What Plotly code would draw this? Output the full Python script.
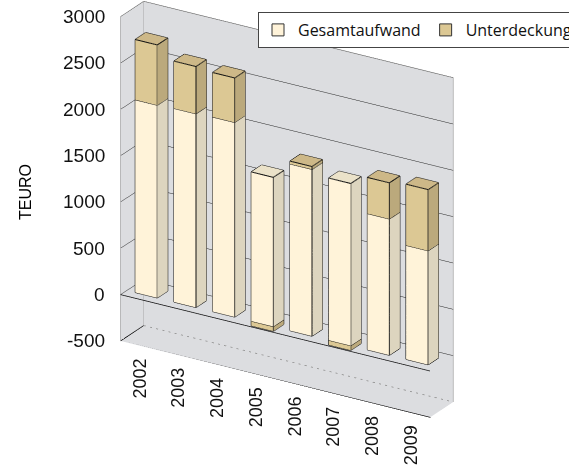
import math
import plotly.graph_objects as go

# ---- data -------------------------------------------------------------
years = ["2002", "2003", "2004", "2005", "2006", "2007", "2008", "2009"]
gesamtaufwand = [2080, 2090, 2100, 1610, 1800, 1750, 1470, 1230]
unterdeckung = [650, 510, 480, -50, 30, -50, 390, 660]
value_ticks = [-500, 0, 500, 1000, 1500, 2000, 2500, 3000]

# ---- styling ----------------------------------------------------------
WALL = "#dcdde0"
FRAME = "#a6a6a6"
G_COLORS = dict(front="#fff3d9", side="#ddd5bf", top="#ebe2c9")
U_COLORS = dict(front="#dcc894", side="#bba97c", top="#cdb888")
BAR_HALF = 0.285          # half bar width in category units
DEPTH = (0.275, 0.725)    # bar depth inside the floor (0 = front, 1 = back)
X_RANGE = [-0.5, len(years) - 0.5]
Y_RANGE = [0, 1]
Z_RANGE = [value_ticks[0], value_ticks[-1]]


def add_box(mesh, edges, x0, x1, y0, y1, z0, z1, colors):
    """Append a rectangular column segment to the mesh and edge buffers."""
    base = len(mesh["x"])
    pts = [(x0, y0, z0), (x1, y0, z0), (x1, y1, z0), (x0, y1, z0),
           (x0, y0, z1), (x1, y0, z1), (x1, y1, z1), (x0, y1, z1)]
    for p in pts:
        mesh["x"].append(p[0]); mesh["y"].append(p[1]); mesh["z"].append(p[2])
    faces = [((0, 1, 2), "side"), ((0, 2, 3), "side"),      # bottom
             ((4, 5, 6), "top"), ((4, 6, 7), "top"),        # top
             ((0, 1, 5), "front"), ((0, 5, 4), "front"),    # front
             ((3, 2, 6), "side"), ((3, 6, 7), "side"),      # back
             ((0, 3, 7), "side"), ((0, 7, 4), "side"),      # left
             ((1, 2, 6), "side"), ((1, 6, 5), "side")]      # right
    for (a, b, c), kind in faces:
        mesh["i"].append(base + a); mesh["j"].append(base + b); mesh["k"].append(base + c)
        mesh["fc"].append(colors[kind])
    for a, b in [(0, 1), (1, 2), (2, 3), (3, 0), (4, 5), (5, 6), (6, 7), (7, 4),
                 (0, 4), (1, 5), (2, 6), (3, 7)]:
        for p in (pts[a], pts[b]):
            edges["x"].append(p[0]); edges["y"].append(p[1]); edges["z"].append(p[2])
        edges["x"].append(None); edges["y"].append(None); edges["z"].append(None)


def new_mesh():
    return dict(x=[], y=[], z=[], i=[], j=[], k=[], fc=[])


g_mesh, u_mesh = new_mesh(), new_mesh()
edges = dict(x=[], y=[], z=[])
for idx, (g, u) in enumerate(zip(gesamtaufwand, unterdeckung)):
    x0, x1 = idx - BAR_HALF, idx + BAR_HALF
    add_box(g_mesh, edges, x0, x1, DEPTH[0], DEPTH[1], 0, g, G_COLORS)
    if u >= 0:
        add_box(u_mesh, edges, x0, x1, DEPTH[0], DEPTH[1], g, g + u, U_COLORS)
    else:
        add_box(u_mesh, edges, x0, x1, DEPTH[0], DEPTH[1], u, 0, U_COLORS)

flat_light = dict(ambient=1.0, diffuse=0.0, specular=0.0, roughness=1.0, fresnel=0.0)

fig = go.Figure()
for name, m in [("Gesamtaufwand", g_mesh), ("Unterdeckung", u_mesh)]:
    fig.add_trace(go.Mesh3d(
        x=m["x"], y=m["y"], z=m["z"], i=m["i"], j=m["j"], k=m["k"],
        facecolor=m["fc"], flatshading=True, lighting=flat_light,
        name=name, legendgroup=name, showlegend=False, hoverinfo="skip",
    ))

fig.add_trace(go.Scatter3d(
    x=edges["x"], y=edges["y"], z=edges["z"], mode="lines",
    line=dict(color="#111111", width=2), showlegend=False, hoverinfo="skip",
))

# frame of walls and floor
xa, xb = X_RANGE
ya, yb = Y_RANGE
za, zb = Z_RANGE
grey_frame = [((xa, ya, za), (xa, ya, zb)), ((xa, ya, zb), (xa, yb, zb)),
              ((xa, yb, zb), (xb, yb, zb)), ((xb, yb, zb), (xb, yb, za)),
              ((xa, yb, za), (xa, yb, zb))]
black_frame = [((xa, ya, za), (xb, ya, za)), ((xb, ya, za), (xb, yb, za)),
               ((xa, ya, za), (xa, yb, za)), ((xa, ya, 0), (xb, ya, 0))]
floor_back = [((xa, yb, za), (xb, yb, za))]
for segs, col, dash in [(grey_frame, FRAME, "solid"), (black_frame, "#111111", "solid"),
                        (floor_back, "#8c8c8c", "dash")]:
    fx, fy, fz = [], [], []
    for p, q in segs:
        fx += [p[0], q[0], None]; fy += [p[1], q[1], None]; fz += [p[2], q[2], None]
    fig.add_trace(go.Scatter3d(x=fx, y=fy, z=fz, mode="lines",
                               line=dict(color=col, width=1.5, dash=dash),
                               showlegend=False, hoverinfo="skip"))

# legend entries
for name, cols in [("Gesamtaufwand", G_COLORS), ("Unterdeckung", U_COLORS)]:
    fig.add_trace(go.Bar(x=[None], y=[None], name=name, legendgroup=name,
                         marker=dict(color=cols["front"], line=dict(color="#333333", width=1))))

axis_common = dict(showgrid=False, zeroline=False, showticklabels=False, ticks="",
                   title=dict(text=""), showbackground=True, backgroundcolor=WALL,
                   showline=False, showspikes=False)

theta = math.radians(-59)
phi = math.radians(19.8)
dist = 1.5
eye = dict(x=dist * math.cos(phi) * math.cos(theta),
           y=dist * math.cos(phi) * math.sin(theta),
           z=dist * math.sin(phi))

tick_ann = [dict(x=xa, y=ya, z=v, text=str(v), showarrow=False, xanchor="right",
                 xshift=-14, font=dict(family="Liberation Sans", size=19, color="#111111"))
            for v in value_ticks]
year_ann = [dict(x=i, y=ya, z=za, text=yr, showarrow=False, textangle=-90,
                 yanchor="top", yshift=-11,
                 font=dict(family="Liberation Sans", size=18, color="#111111"))
            for i, yr in enumerate(years)]

fig.update_layout(
    width=569, height=468,
    margin=dict(l=0, r=0, t=0, b=0, autoexpand=False),
    paper_bgcolor="white", plot_bgcolor="white",
    xaxis=dict(visible=False), yaxis=dict(visible=False),
    hovermode=False,
    scene=dict(
        domain=dict(x=[0, 1], y=[0, 1]),
        xaxis=dict(range=X_RANGE, **axis_common),
        yaxis=dict(range=Y_RANGE, **axis_common),
        zaxis=dict(range=Z_RANGE, tickvals=value_ticks[1:], **{**axis_common, "showgrid": True},
                   gridcolor="#222222", gridwidth=1),
        aspectmode="manual", aspectratio=dict(x=1.55, y=0.19, z=1.515),
        camera=dict(eye=eye, up=dict(x=0, y=0, z=1), center=dict(x=-0.012, y=0, z=-0.118),
                    projection=dict(type="orthographic")),
        annotations=tick_ann + year_ann,
    ),
    legend=dict(orientation="h", x=258 / 569, xanchor="left", y=1 - 12 / 468, yanchor="top",
                bgcolor="white", bordercolor="#444444", borderwidth=1,
                font=dict(family="Open Sans", size=16, color="#111111")),
    annotations=[dict(text="TEURO", x=25 / 569, y=1 - 192 / 468, xref="paper", yref="paper",
                      xanchor="center", yanchor="middle",
                      showarrow=False, textangle=-90,
                      font=dict(family="Liberation Sans", size=16, color="#000000"))],
)

fig.write_html("out.html")
